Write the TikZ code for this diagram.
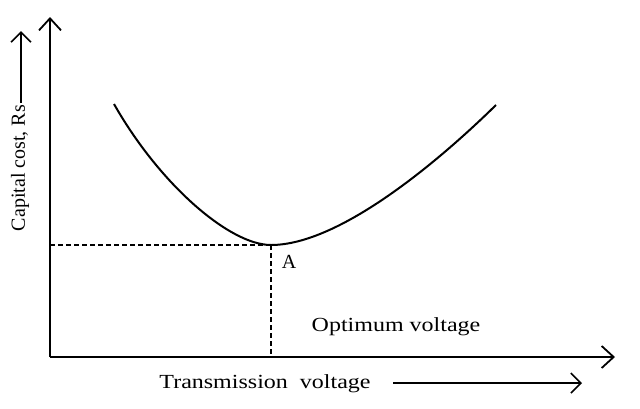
\documentclass[tikz,border=0pt]{standalone}
\usepackage{fontspec}
\setmainfont{Liberation Serif}
\usetikzlibrary{arrows.meta, positioning}
\tikzset{
axis line/.style = { draw = black, line width = 2pt, -{Straight Barb[length = 12pt, width = 22pt, line width = 1.8pt]} },
label arrow/.style = { draw = black, line width = 1.8pt, -{Straight Barb[length = 10pt, width = 20pt, line width = 1.6pt]} },
guide line/.style = { draw = black, line width = 1.6pt, dash pattern = on 5pt off 3pt },
cost curve/.style = { draw = black, line width = 2pt },
plot label/.style = { black, draw = none, fill = none, inner sep = 0pt, font = \fontsize{20}{24}\selectfont },
}

\begin{document}
\begin{tikzpicture}[x=1pt, y=-1pt]
      \useasboundingbox (0,0) rectangle (640,408);
      % axes
      \coordinate (origin) at (50,357);
      \coordinate (y tip) at (50,17);
      \coordinate (x tip) at (615,357);
      \coordinate (A) at (271,245);
      \coordinate (A left) at (50,245);
      \coordinate (A foot) at (271,357);
      \coordinate (curve left) at (114,104);
      \coordinate (curve right) at (496,105);
      \path [axis line] (origin) -- (y tip);
      \path [axis line] (origin) -- (x tip);
      % cost curve
      \path [cost curve] (curve left) .. controls (160,185) and (230,245) .. (A)
                         .. controls (340,245) and (440,160) .. (curve right);
      \path [guide line] (A left) -- (A);
      \path [guide line] (A) -- (A foot);
      % labels
      \node[plot label] (A label) at (289,262) {A};
      \node[plot label, xscale = 1.2] (optimum label) at (396,327) {Optimum voltage};
      \node[plot label, xscale = 1.2] (volt label) at (265,384) {Transmission\ \ voltage};
      \node[plot label, rotate = 90] (cost label) at (20,168) {Capital cost, Rs};
      \coordinate (volt start) at (393,383);
      \coordinate (volt tip) at (582,383);
      \coordinate (cost start) at (21,103);
      \coordinate (cost tip) at (21,31);
      \path [label arrow] (volt start) -- (volt tip);
      \path [label arrow] (cost start) -- (cost tip);
\end{tikzpicture}
\end{document}
